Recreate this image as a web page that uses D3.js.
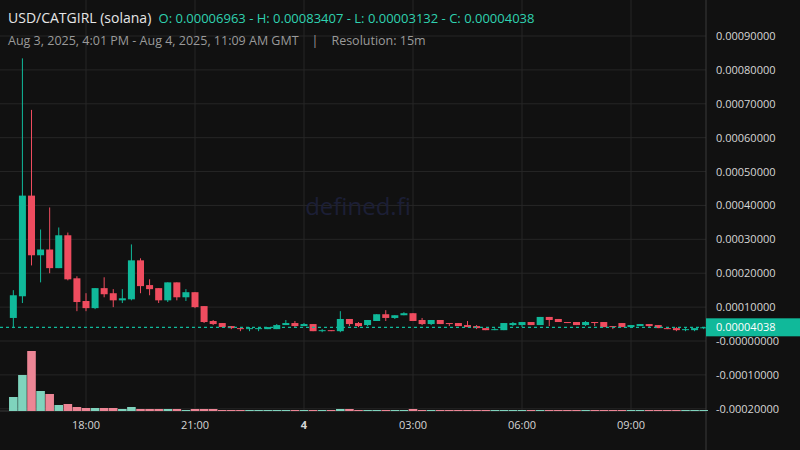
<!DOCTYPE html>
<html><head><meta charset="utf-8">
<script src="https://cdn.jsdelivr.net/npm/d3@7"></script>
<style>body{margin:0;background:#111111;}svg{display:block;font-family:"Open Sans","Noto Sans",sans-serif;}text{white-space:pre;}</style>
</head><body><svg id="c" width="800" height="450"></svg>
<script>
// OHLC in units of 1e-5 (value*1e5), 15m candles starting Aug 3 16:00
const opens  = [6.8,13.2,42.9,25.3,27.0,21.5,31.2,18.5,11.8,9.7,15.6,14.1,12.0,12.3,23.8,16.5,15.6,12.0,17.3,12.9,14.4,
  10.3,5.9,5.3,4.4,3.8,3.5,3.5,3.5,3.5,4.7,5.3,4.4,5.0,2.9,3.2,2.9,6.5,5.3,4.7,5.9,7.9,6.8,7.6,8.2,6.2,5.0,6.2,5.3,5.3,4.7,4.4,3.8,3.2,3.2,4.7,4.7,5.6,4.7,7.1,6.5,5.6,5.6,4.7,5.6,5.6,4.4,5.3,4.1,4.4,5.0,4.7,3.8,3.8,3.2,3.2,3.8];
const highs  = [15.0,83.4,68.2,32.9,39.4,33.5,32.0,19.1,14.1,15.6,18.8,15.3,15.3,28.5,24.4,18.2,15.6,17.3,17.3,15.3,14.4,
  10.3,6.2,5.3,4.4,3.8,4.1,4.1,4.1,5.0,6.2,5.9,5.3,5.0,3.5,3.2,8.8,6.5,5.6,6.2,7.9,9.1,7.6,8.5,8.2,6.8,6.2,6.2,5.3,5.3,5.9,4.7,3.8,3.8,5.3,5.6,5.6,5.6,7.1,7.1,6.5,5.6,5.6,5.9,5.6,5.6,4.4,5.3,4.7,5.0,5.0,4.7,3.8,4.1,3.8,3.5,4.1];
const lows   = [3.8,11.2,22.3,17.3,20.0,21.5,17.9,8.8,8.8,9.4,12.9,10.0,11.2,12.0,14.1,13.5,11.2,11.5,12.0,11.8,9.7,
  5.3,4.7,4.1,3.5,2.9,2.9,2.9,3.5,3.5,4.7,4.1,4.4,2.9,2.6,2.9,2.6,4.4,4.1,4.4,5.9,5.9,6.5,7.6,5.9,4.7,4.7,5.0,4.4,4.4,4.1,3.5,3.2,3.2,3.2,4.4,4.1,4.7,4.7,4.4,5.6,5.3,4.7,4.4,4.4,4.1,3.5,4.1,4.1,4.4,4.1,3.8,3.5,2.9,2.9,2.9,3.5];
const closes = [13.5,42.9,25.3,27.0,21.5,31.2,18.2,11.5,9.7,15.6,13.8,12.0,12.6,23.8,16.2,15.3,12.0,17.3,12.9,14.4,10.0,
  5.6,5.0,4.1,3.8,3.5,3.8,3.8,4.1,4.7,5.3,4.4,5.0,2.9,3.2,2.9,6.5,5.0,4.4,6.2,7.9,6.8,7.6,8.2,5.9,5.0,6.2,5.0,5.0,4.4,4.1,3.8,3.2,3.5,5.3,5.3,5.6,4.7,7.1,6.2,5.6,5.3,4.7,5.6,5.3,4.1,4.1,4.1,4.7,5.0,4.4,3.8,3.5,3.2,3.5,3.8,4.04];
const volumes = [14,36,60,20,17,6,7,4,3,3,3,3,2,4,2,2,2,2,2,1,2,2,2,1,1,1,1,1,1,1,1,1,1,1,1,1,2,2,1,1,1,1,1,1,2,1,1,1,1,1,1,1,1,1,1,1,1,1,1,1,1,1,1,1,1,1,1,1,1,1,1,1,1,1,1,1,1];
const yTicks = [0.0009,0.0008,0.0007,0.0006,0.0005,0.0004,0.0003,0.0002,0.0001,0,-0.0001,-0.0002];
const yTickLabels = ["0.00090000","0.00080000","0.00070000","0.00060000","0.00050000","0.00040000","0.00030000","0.00020000","0.00010000","-0.00000000","-0.00010000","-0.00020000"];
const xTickHours = [18,21,24,27,30,33];
const xTickLabels = ["18:00","21:00","4","03:00","06:00","09:00"];
const lastPrice = 0.00004038;

const svg = d3.select("#c");
const UP="#10b99a", DOWN="#ef4c5f";
const start = new Date(2025,7,3,16,0);
const times = opens.map((d,i)=>new Date(start.getTime()+i*15*60000));
const x = d3.scaleTime().domain([new Date(2025,7,3,18),new Date(2025,7,3,21)]).range([86,195]);
const y = d3.scaleLinear().domain([0,0.0009]).range([341,36]);
const v = d3.scaleLinear().domain([0,60]).range([411,351]);
const right=706;

const g=svg.append("g");
yTicks.forEach(t=>g.append("line").attr("x1",0).attr("x2",right).attr("y1",y(t)).attr("y2",y(t)).attr("stroke","#262626"));
xTickHours.forEach(h=>{const xx=x(new Date(2025,7,3,h));g.append("line").attr("x1",xx).attr("x2",xx).attr("y1",0).attr("y2",411).attr("stroke","#262626");});
svg.append("line").attr("x1",right).attr("x2",right).attr("y1",0).attr("y2",450).attr("stroke","#3a3a3a");
svg.append("line").attr("x1",0).attr("x2",right).attr("y1",411).attr("y2",411).attr("stroke","#3a3a3a");

svg.append("text").attr("x",358).attr("y",215).attr("text-anchor","middle").attr("font-size",24).attr("fill","#1c1f36").text("defined.fi");

svg.append("g").selectAll("rect").data(volumes).join("rect")
 .attr("x",(d,i)=>x(times[i])-4.3).attr("width",8.6)
 .attr("y",d=>v(d)).attr("height",d=>411-v(d))
 .attr("fill",(d,i)=>closes[i]>=opens[i]?"#7fd3bd":"#ec8595");

const cg=svg.append("g");
opens.forEach((o,i)=>{
  const c=closes[i], col=c>=o?UP:DOWN, xx=x(times[i]);
  cg.append("line").attr("x1",xx).attr("x2",xx).attr("y1",y(highs[i]*1e-5)).attr("y2",y(lows[i]*1e-5)).attr("stroke",col).attr("stroke-width",1);
  const top=y(Math.max(o,c)*1e-5), bot=y(Math.min(o,c)*1e-5);
  cg.append("rect").attr("x",xx-3.5).attr("width",7).attr("y",top).attr("height",Math.max(1,bot-top)).attr("fill",col);
});

svg.append("line").attr("x1",0).attr("x2",right).attr("y1",y(lastPrice)).attr("y2",y(lastPrice)).attr("stroke",UP).attr("stroke-dasharray","3,3").attr("stroke-width",1.3);

yTicks.forEach((t,i)=>svg.append("text").attr("x",716).attr("y",y(t)+4).attr("font-size",11).attr("fill","#d6d6d6").text(yTickLabels[i]));
svg.append("rect").attr("x",706).attr("y",y(lastPrice)-9).attr("width",94).attr("height",18).attr("fill","#10b99a");
svg.append("text").attr("x",716).attr("y",y(lastPrice)+4).attr("font-size",11).attr("fill","#fff").text(lastPrice.toFixed(8));

xTickHours.forEach((h,i)=>svg.append("text").attr("x",x(new Date(2025,7,3,h))).attr("y",429).attr("text-anchor","middle").attr("font-size",11)
  .attr("font-weight",i==2?"bold":"normal").attr("fill","#d6d6d6").text(xTickLabels[i]));

const h1=svg.append("text").attr("x",8).attr("y",23).attr("font-size",14);
h1.append("tspan").attr("fill","#e6e6e6").text("USD/CATGIRL (solana)  ");
h1.append("tspan").attr("fill","#2fd1b0").attr("font-size",13).text("O: 0.00006963 - H: 0.00083407 - L: 0.00003132 - C: 0.00004038");
svg.append("text").attr("x",8).attr("y",45).attr("font-size",12.5).attr("fill","#9a9a9a").text("Aug 3, 2025, 4:01 PM - Aug 4, 2025, 11:09 AM GMT    |    Resolution: 15m");
</script></body></html>
